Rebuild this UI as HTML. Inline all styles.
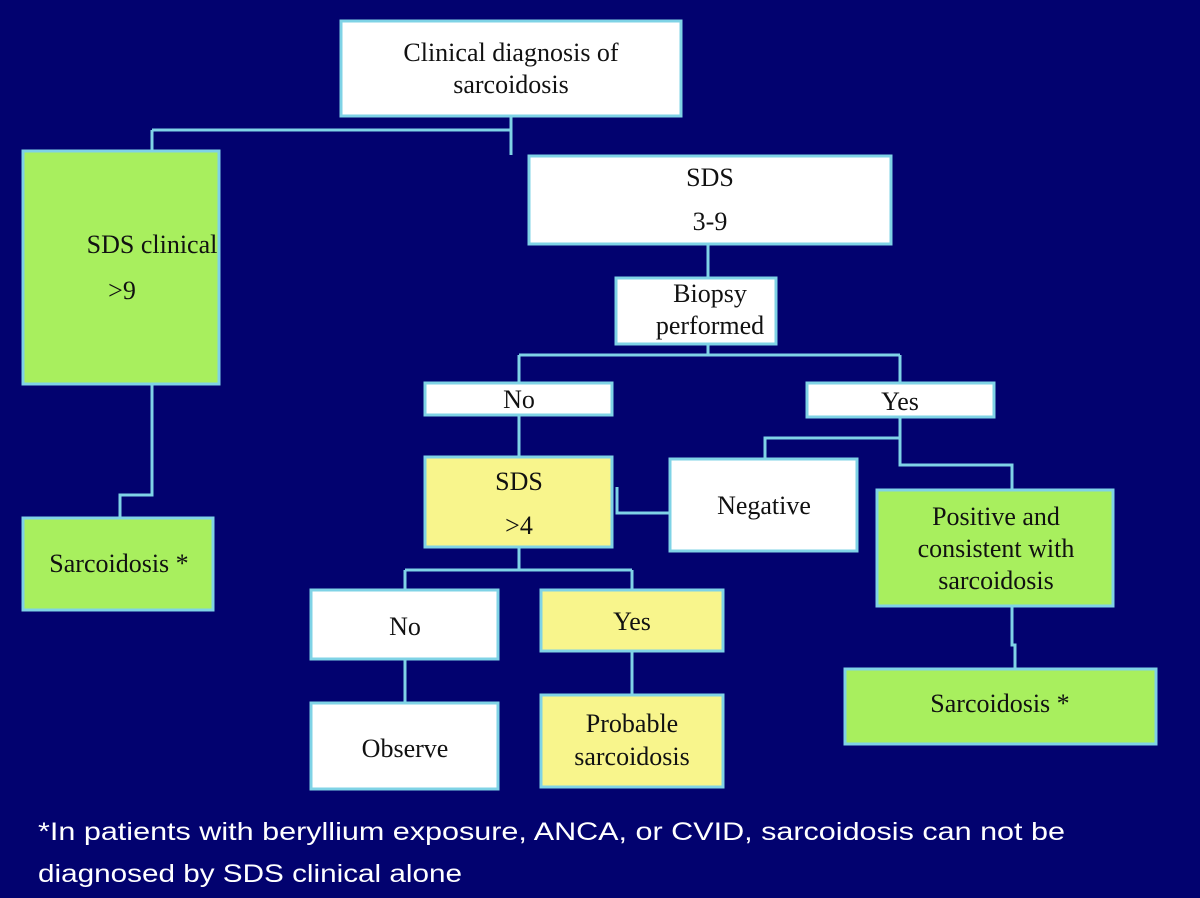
<!DOCTYPE html>
<html><head><style>
html,body{margin:0;padding:0;background:#01016e;}
svg{display:block}
text{font-family:"Liberation Serif",serif;font-size:26px;fill:#111;text-anchor:middle}
.f{font-family:"Liberation Sans",sans-serif;fill:#fff;text-anchor:start;font-size:25px}
</style></head><body>
<svg width="1200" height="898" viewBox="0 0 1200 898">
<rect width="1200" height="898" fill="#02026f"/>
<g stroke="#7fd3e6" stroke-width="3" fill="none">
<path d="M511 117V130M152 130H511V155M152 130V150"/>
<path d="M708 245V277"/>
<path d="M708 345V355M519 355H900M519 355V382M900 355V382"/>
<path d="M519 416V456"/>
<path d="M900 418V438H765V458M900 438V465H1012V489"/>
<path d="M519 548V570M405 570H632M405 570V589M632 570V589"/>
<path d="M405 660V702M632 652V694"/>
<path d="M617 487V513H669"/>
<path d="M152 385V495H120V517"/>
<path d="M1012 607V645H1015V668"/>
</g>
<g stroke="#7fd3e6" stroke-width="3">
<rect x="341" y="21" width="340" height="95" fill="#fff"/>
<rect x="23" y="151" width="196" height="233" fill="#a8ef5e"/>
<rect x="23" y="518" width="190" height="92" fill="#a8ef5e"/>
<rect x="529" y="156" width="362" height="88" fill="#fff"/>
<rect x="616" y="278" width="160" height="66" fill="#fff"/>
<rect x="425" y="383" width="187" height="32" fill="#fff"/>
<rect x="807" y="383" width="187" height="34" fill="#fff"/>
<rect x="425" y="457" width="187" height="90" fill="#f8f58c"/>
<rect x="670" y="459" width="187" height="92" fill="#fff"/>
<rect x="877" y="490" width="236" height="116" fill="#a8ef5e"/>
<rect x="845" y="669" width="311" height="75" fill="#a8ef5e"/>
<rect x="311" y="590" width="187" height="69" fill="#fff"/>
<rect x="541" y="590" width="182" height="61" fill="#f8f58c"/>
<rect x="311" y="703" width="187" height="86" fill="#fff"/>
<rect x="541" y="695" width="182" height="92" fill="#f8f58c"/>
</g>
<text x="511" y="61">Clinical diagnosis of</text>
<text x="511" y="93">sarcoidosis</text>
<text x="152" y="253">SDS clinical</text>
<text x="122" y="299">&gt;9</text>
<text x="119" y="572">Sarcoidosis *</text>
<text x="710" y="186">SDS</text>
<text x="710" y="230">3-9</text>
<text x="710" y="302">Biopsy</text>
<text x="710" y="334">performed</text>
<text x="519" y="408">No</text>
<text x="900" y="410">Yes</text>
<text x="519" y="490">SDS</text>
<text x="519" y="534">&gt;4</text>
<text x="764" y="514">Negative</text>
<text x="996" y="525">Positive and</text>
<text x="996" y="557">consistent with</text>
<text x="996" y="589">sarcoidosis</text>
<text x="1000" y="712">Sarcoidosis *</text>
<text x="405" y="635">No</text>
<text x="632" y="630">Yes</text>
<text x="405" y="757">Observe</text>
<text x="632" y="732">Probable</text>
<text x="632" y="765">sarcoidosis</text>
<text class="f" x="38" y="840" textLength="1027" lengthAdjust="spacingAndGlyphs">*In patients with beryllium exposure, ANCA, or CVID, sarcoidosis can not be</text>
<text class="f" x="38" y="882" textLength="424" lengthAdjust="spacingAndGlyphs">diagnosed by SDS clinical alone</text>
</svg>
</body></html>
